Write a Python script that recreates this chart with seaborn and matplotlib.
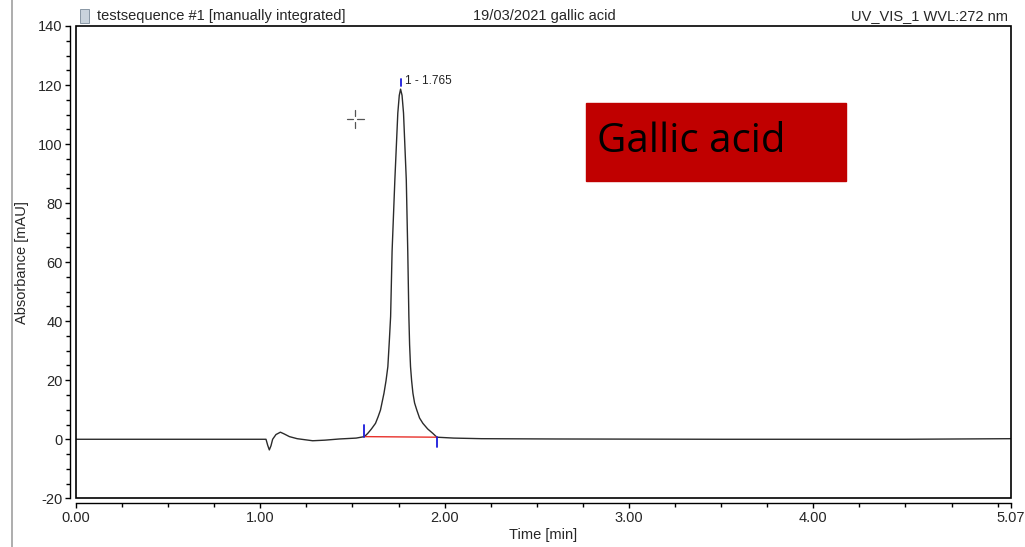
import numpy as np
import pandas as pd
import matplotlib.pyplot as plt
import seaborn as sns
from matplotlib.patches import Rectangle
from matplotlib.ticker import MultipleLocator, FixedLocator

# Chromatogram trace
time_min = [0.00, 0.50, 1.00, 1.031, 1.040, 1.049, 1.058, 1.067, 1.085, 1.109,
            1.130, 1.158, 1.200, 1.284, 1.350, 1.429, 1.520, 1.565, 1.583, 1.603,
            1.625, 1.639, 1.652, 1.671, 1.682, 1.692, 1.700, 1.707, 1.715, 1.730,
            1.746, 1.754, 1.761, 1.769, 1.777, 1.792, 1.800, 1.806, 1.810, 1.815,
            1.821, 1.828, 1.837, 1.849, 1.864, 1.882, 1.908, 1.936, 1.958, 2.050,
            2.200, 2.600, 3.500, 4.500, 5.070]
absorbance = [0.0, 0.0, 0.0, 0.0, -2.0, -3.6, -2.2, 0.0, 1.6, 2.4,
              1.8, 0.9, 0.2, -0.5, -0.3, 0.1, 0.4, 0.9, 2.0, 3.5,
              5.4, 7.6, 9.9, 15.6, 19.8, 24.6, 33.3, 41.6, 63.7, 87.9,
              110.5, 116.5, 118.6, 116.5, 110.5, 87.9, 63.7, 41.6, 32.0, 24.6,
              19.8, 15.6, 12.3, 9.9, 7.2, 5.4, 3.5, 2.0, 0.7, 0.4,
              0.2, 0.1, 0.0, 0.0, 0.2]

# integration: peak start / apex / end
peak_start = (1.565, 0.9)
peak_end = (1.958, 0.7)
peak_apex = (1.761, 118.6)
peak_label = "1 - 1.765"

x_ticks = [0.0, 1.0, 2.0, 3.0, 4.0, 5.07]
y_ticks = [-20, 0, 20, 40, 60, 80, 100, 120, 140]

df = pd.DataFrame({"Time [min]": time_min, "Absorbance [mAU]": absorbance})

sns.set_style("white")
plt.rcParams['font.family'] = ['Liberation Sans', 'DejaVu Sans']
plt.rcParams['axes.unicode_minus'] = False

fig = plt.figure(figsize=(10.25, 5.47), dpi=100)
ax = fig.add_axes([0.0741, 0.0890, 0.9118, 0.8635])

sns.lineplot(data=df, x="Time [min]", y="Absorbance [mAU]", sort=False,
             estimator=None, color="#2b2b2b", lw=1.0, ax=ax)

# baseline of integration + marks
ax.plot([peak_start[0], peak_end[0]], [peak_start[1], peak_end[1]], color="#e8302a", lw=1.0)
ax.plot([peak_start[0]] * 2, [peak_start[1], peak_start[1] + 3.8], color="#1a1adb", lw=1.3)
ax.plot([peak_end[0]] * 2, [peak_end[1], peak_end[1] - 3.2], color="#1a1adb", lw=1.3)
ax.plot([peak_apex[0] + 0.003] * 2, [peak_apex[1] + 1.0, peak_apex[1] + 3.4], color="#1a1adb", lw=1.3)
ax.text(peak_apex[0] + 0.025, peak_apex[1] + 2.6, peak_label, fontsize=8.5, va="center", color="#222222")

# cursor crosshair
cx, cy = 1.515, 108.6
for xs, ys in [([cx - 0.045, cx - 0.01], [cy, cy]), ([cx + 0.01, cx + 0.045], [cy, cy]),
               ([cx, cx], [cy + 1.0, cy + 3.0]), ([cx, cx], [cy - 1.0, cy - 3.0])]:
    ax.plot(xs, ys, color="#555555", lw=0.9)

ax.set_xlim(0, 5.07)
ax.set_ylim(-20, 140)
ax.xaxis.set_major_locator(FixedLocator(x_ticks))
ax.set_xticklabels([f"{v:.2f}" for v in x_ticks])
ax.xaxis.set_minor_locator(MultipleLocator(0.25))
ax.yaxis.set_major_locator(FixedLocator(y_ticks))
ax.yaxis.set_minor_locator(MultipleLocator(5))

for s in ["top", "right"]:
    ax.spines[s].set_visible(False)
ax.spines["left"].set_position(("outward", 4))
ax.spines["bottom"].set_position(("outward", 3.6))
for s in ["left", "bottom"]:
    ax.spines[s].set_color("black")
    ax.spines[s].set_linewidth(1.0)
ax.tick_params(which="both", direction="out", length=3.5, width=1.0, color="black",
               labelsize=10.5, pad=2, bottom=True, left=True)
ax.tick_params(which="minor", length=3)

ax.add_patch(Rectangle((0, 0), 1, 1, transform=ax.transAxes, fill=False,
                       ec="black", lw=1.2, clip_on=False, zorder=5))

ax.set_xlabel("Time [min]", fontsize=10.5)
ax.set_ylabel("Absorbance [mAU]", fontsize=10.5)
ax.xaxis.set_label_coords(0.5, -0.062)
ax.yaxis.set_label_coords(-0.050, 0.50)

# boxed label
fig.patches.append(Rectangle((586 / 1025, 1 - 181 / 547), 260 / 1025, 78 / 547,
                             transform=fig.transFigure, color="#c00000", zorder=3))
fig.text(597 / 1025, 1 - 142 / 547, "Gallic acid", fontsize=29, family=["Open Sans", "DejaVu Sans"],
         va="center", ha="left", color="black", zorder=4)

# header
fig.patches.append(Rectangle((80 / 1025, 1 - 23 / 547), 9 / 1025, 14 / 547,
                             transform=fig.transFigure, fc="#c9d3dc", ec="#7a8a99", lw=0.6))
fig.text(97 / 1025, 1 - 16 / 547, "testsequence #1 [manually integrated]", fontsize=10.5, va="center")
fig.text(473 / 1025, 1 - 16 / 547, "19/03/2021 gallic acid", fontsize=10.5, va="center")
fig.text(1008 / 1025, 1 - 16 / 547, "UV_VIS_1 WVL:272 nm", fontsize=10.5, va="center", ha="right")

# page border on the left
fig.add_artist(plt.Line2D([12 / 1025, 12 / 1025], [0, 1], transform=fig.transFigure,
                          color="#a0a0a0", lw=1.2))

fig.savefig("out.png", dpi=100)
